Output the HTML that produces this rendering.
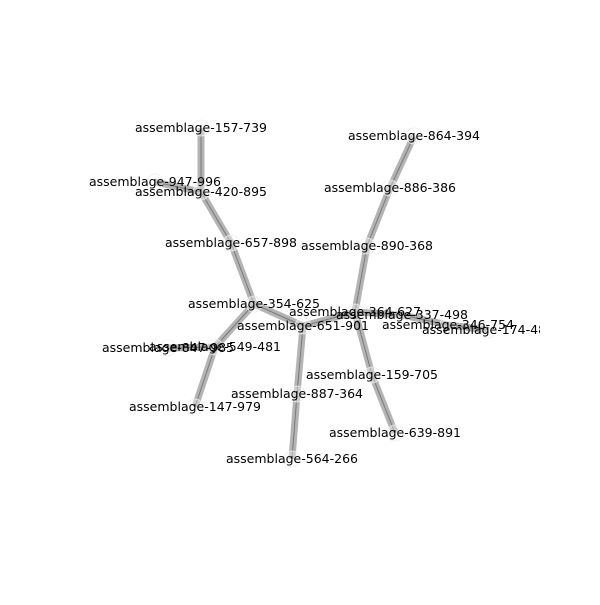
<!DOCTYPE html>
<html><head><meta charset="utf-8"><style>
html,body{margin:0;padding:0;background:#fff;}
svg text{font-family:"DejaVu Sans","Liberation Sans",sans-serif;font-size:12.5px;fill:#000;}
</style></head><body>
<svg id="chart" width="600" height="600" viewBox="0 0 600 600" xmlns="http://www.w3.org/2000/svg">
<defs><clipPath id="ax"><rect x="60" y="60" width="480" height="480"/></clipPath></defs>
<g id="edges" clip-path="url(#ax)"></g>
<g id="nodes" clip-path="url(#ax)"></g>
<g id="labels" clip-path="url(#ax)"></g>
</svg>
<script>
const nodeNames = ["157-739","947-996","420-895","657-898","354-625","651-901","364-627","337-498","346-754","174-485","864-394","886-386","890-368","159-705","639-891","887-364","564-266","549-481","847-985","147-979"];
const nodeX = [201,155,201,231,254,303,355,402,448,488,414,390,367,372,395,297,292,215,168,195];
const nodeY = [128,182,192,243,304,326,312,315,325,330,136,188,246,375,433,394,459,347,348,407];
const edgeFrom = ["157-739","947-996","420-895","657-898","354-625","354-625","549-481","549-481","651-901","651-901","887-364","364-627","890-368","886-386","364-627","337-498","346-754","364-627","159-705"];
const edgeTo = ["420-895","420-895","657-898","354-625","651-901","549-481","847-985","147-979","364-627","887-364","564-266","890-368","886-386","864-394","337-498","346-754","174-485","159-705","639-891"];
const NS="http://www.w3.org/2000/svg";
const idx = n => nodeNames.indexOf(n);
const eg=document.getElementById('edges'), ng=document.getElementById('nodes'), lg=document.getElementById('labels');
for(let i=0;i<edgeFrom.length;i++){
  const a=idx(edgeFrom[i]), b=idx(edgeTo[i]);
  const g=document.createElementNS(NS,'g');
  
  
  [["#b4b4b4",7],["#7a7a7a",1]].forEach(([c,w])=>{
    const l=document.createElementNS(NS,'line');
    l.setAttribute('x1',nodeX[a]);l.setAttribute('y1',nodeY[a]);
    l.setAttribute('x2',nodeX[b]);l.setAttribute('y2',nodeY[b]);
    l.setAttribute('stroke',c);l.setAttribute('stroke-width',w);
    g.appendChild(l);
  });
  eg.appendChild(g);
}
for(let i=0;i<nodeNames.length;i++){
  const c=document.createElementNS(NS,'circle');
  
  
  c.setAttribute('cx',nodeX[i]);c.setAttribute('cy',nodeY[i]);c.setAttribute('r',8);
  c.setAttribute('fill','#fff');c.setAttribute('fill-opacity','0.35');
  c.setAttribute('stroke','#eee');c.setAttribute('stroke-width','0.8');
  ng.appendChild(c);
  const t=document.createElementNS(NS,'text');
  
  
  t.setAttribute('x',nodeX[i]);t.setAttribute('y',nodeY[i]+4);
  t.setAttribute('text-anchor','middle');
  t.textContent='assemblage-'+nodeNames[i];
  lg.appendChild(t);
}
</script>
</body></html>
